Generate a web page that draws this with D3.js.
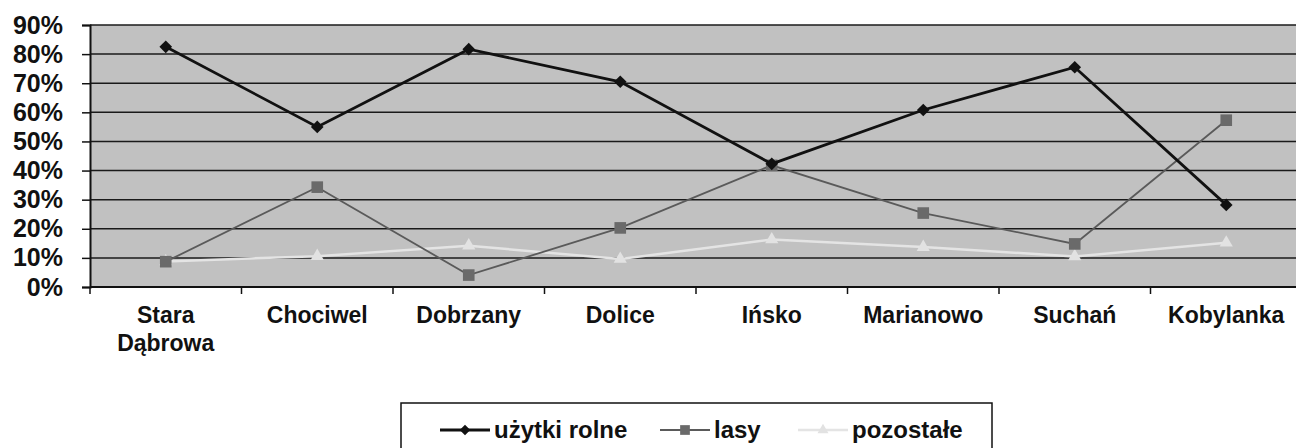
<!DOCTYPE html>
<html>
<head>
<meta charset="utf-8">
<script src="https://cdn.jsdelivr.net/npm/d3@7"></script>
<style>
  body { margin: 0; background: #fff; overflow: hidden; }
  svg { display: block; font-family: "Liberation Sans", Arial, sans-serif; font-weight: bold; }
</style>
</head>
<body>
<div id="chart"></div>
<script>
// data
const categories = ["Stara\nDąbrowa", "Chociwel", "Dobrzany", "Dolice", "Ińsko", "Marianowo", "Suchań", "Kobylanka"];
const uzytkiRolne = [82.5, 55, 81.7, 70.5, 42.3, 60.8, 75.5, 28.2];
const lasy = [8.7, 34.3, 4.1, 20.3, 41.8, 25.4, 14.8, 57.3];
const pozostale = [8.8, 10.6, 14.2, 9.6, 16.3, 13.7, 10.5, 15.2];
const yTicks = [0, 10, 20, 30, 40, 50, 60, 70, 80, 90];
const seriesNames = ["użytki rolne", "lasy", "pozostałe"];

const width = 1296;
const height = 448;
const margin = {top: 25, right: 0, bottom: 161, left: 90};

const svg = d3.select("#chart")
  .append("svg")
    .attr("width", width)
    .attr("height", height);

const xScale = d3.scaleBand()
  .domain(categories)
  .range([margin.left, margin.left + 8 * 151.5]);

const yScale = d3.scaleLinear()
  .domain([0, 90])
  .range([height - margin.bottom, margin.top]);

const x0 = margin.left, x1 = width + 4;
const yBottom = yScale(0), yTop = yScale(90);

// plot area
svg.append("rect")
  .attr("x", x0)
  .attr("y", yTop)
  .attr("width", x1 - x0)
  .attr("height", yBottom - yTop)
  .attr("fill", "#c1c1c1");

// gridlines
svg.append("g")
  .selectAll("line")
  .data(yTicks.filter(d => d > 0))
  .join("line")
    .attr("x1", x0)
    .attr("x2", x1)
    .attr("y1", d => yScale(d))
    .attr("y2", d => yScale(d))
    .attr("stroke", "#1a1a1a")
    .attr("stroke-width", 1.5);

// y axis
const yAxis = d3.axisLeft(yScale)
  .tickValues(yTicks)
  .tickFormat(d => d + "%")
  .tickSize(8)
  .tickPadding(19);

svg.append("g")
  .attr("transform", `translate(${x0}, 0)`)
  .call(yAxis)
  .call(g => g.select(".domain").attr("stroke", "#111").attr("stroke-width", 2))
  .call(g => g.selectAll(".tick line").attr("stroke", "#111").attr("stroke-width", 1.5))
  .call(g => g.selectAll("text")
    .attr("font-size", 25)
    .attr("font-weight", "bold")
    .attr("font-family", "Liberation Sans, Arial, sans-serif")
    .attr("fill", "#111"));

// x axis
const xAxis = d3.axisBottom(xScale).tickSize(0).tickFormat("");
svg.append("g")
  .attr("transform", `translate(0, ${yBottom})`)
  .call(xAxis)
  .call(g => g.select(".domain").attr("d", `M${x0},0H${x1}`).attr("stroke", "#111").attr("stroke-width", 2));

// category boundary ticks
svg.append("g")
  .selectAll("line")
  .data(categories)
  .join("line")
    .attr("x1", d => xScale(d))
    .attr("x2", d => xScale(d))
    .attr("y1", yBottom)
    .attr("y2", yBottom + 7)
    .attr("stroke", "#111")
    .attr("stroke-width", 1.5);

// category labels
const labels = svg.append("g")
  .selectAll("text")
  .data(categories)
  .join("text")
    .attr("x", d => xScale(d) + xScale.bandwidth() / 2)
    .attr("y", yBottom + 36)
    .attr("text-anchor", "middle")
    .attr("font-size", 23)
    .attr("fill", "#111");

labels.selectAll("tspan")
  .data(d => d.split("\n"))
  .join("tspan")
    .attr("x", function() { return d3.select(this.parentNode).attr("x"); })
    .attr("dy", (d, i) => i === 0 ? 0 : 28)
    .text(d => d);

const cx = (d, i) => xScale(categories[i]) + xScale.bandwidth() / 2;

const series = [
  {name: seriesNames[0], values: uzytkiRolne, stroke: "#111", width: 2.8, fill: "#111", symbol: d3.symbolSquare, size: 80, rotate: 45},
  {name: seriesNames[1], values: lasy, stroke: "#5a5a5a", width: 1.8, fill: "#6a6a6a", symbol: d3.symbolSquare, size: 135, rotate: 0},
  {name: seriesNames[2], values: pozostale, stroke: "#e4e4e4", width: 2.5, fill: "#e2e2e2", symbol: d3.symbolTriangle, size: 75, rotate: 0}
];

const line = d3.line()
  .x(cx)
  .y(d => yScale(d));

// draw back to front so the black line is on top
[...series].reverse().forEach(s => {
  svg.append("path")
    .datum(s.values)
    .attr("d", line)
    .attr("fill", "none")
    .attr("stroke", s.stroke)
    .attr("stroke-width", s.width);

  svg.append("g")
    .selectAll("path")
    .data(s.values)
    .join("path")
      .attr("transform", (d, i) => `translate(${cx(d, i)}, ${yScale(d)}) rotate(${s.rotate})`)
      .attr("d", d3.symbol().type(s.symbol).size(s.size))
      .attr("fill", s.fill);
});

// legend
const legend = svg.append("g")
  .attr("transform", "translate(401, 403)");

legend.append("rect")
  .attr("width", 591)
  .attr("height", 58)
  .attr("fill", "#fff")
  .attr("stroke", "#111")
  .attr("stroke-width", 1.5);

const legendX = [39, 259, 397];
const items = legend.selectAll("g.item")
  .data(series)
  .join("g")
    .attr("class", "item")
    .attr("transform", (d, i) => `translate(${legendX[i]}, 27)`);

items.append("line")
  .attr("x1", 0)
  .attr("x2", 50)
  .attr("stroke", d => d.stroke)
  .attr("stroke-width", d => d.width);

items.append("path")
  .attr("transform", d => `translate(25, 0) rotate(${d.rotate})`)
  .attr("d", d => d3.symbol().type(d.symbol).size(d.size * 0.7)())
  .attr("fill", d => d.fill);

items.append("text")
  .attr("x", 54)
  .attr("dy", "0.35em")
  .attr("font-size", 24)
  .attr("fill", "#111")
  .text(d => d.name);
</script>
</body>
</html>
